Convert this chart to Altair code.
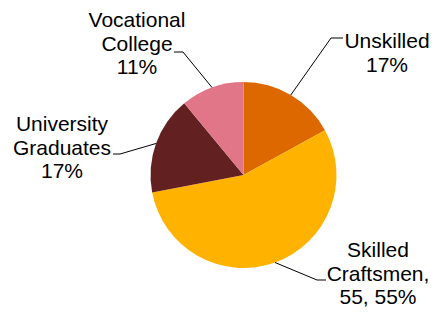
import math
import altair as alt
import pandas as pd

# ---- data ----
categories = ["Unskilled", "Skilled Craftsmen", "University Graduates", "Vocational College"]
values = [17, 55, 17, 11]
label_lines = [
    ["Unskilled"],
    ["Skilled", "Craftsmen,"],
    ["University", "Graduates"],
    ["Vocational", "College"],
]
show_value = [False, True, False, False]
colors = ["#DD6800", "#FFB300", "#622020", "#E07687"]

# ---- layout (plot coordinates, px; page = plot + 8) ----
W, H = 422, 300
CX, CY, R = 235.5, 167, 93
text_pos = [(379, 40), (370, 249), (54, 123), (129, 19)]      # center x, first baseline
leader_start = [(335, 30), (318, 272), (105, 146), (166, 44)]  # text side of leader
leader_elbow = [(323, 30), (309, 272), (112, 146), (175, 44)]

total = sum(values)
arc_df = pd.DataFrame({"category": categories, "value": values, "order": list(range(len(values)))})

# leader lines computed from slice mid-angles
rows = []
cum = 0
for i, (c, v) in enumerate(zip(categories, values)):
    mid = (cum + v / 2) / total * 2 * math.pi
    cum += v
    ex = CX + R * math.sin(mid)
    ey = CY - R * math.cos(mid)
    pts = [leader_start[i], leader_elbow[i], (ex, ey)]
    for j, (px, py) in enumerate(pts):
        rows.append({"category": c, "k": j, "x": px, "y": py})
line_df = pd.DataFrame(rows)

texts = []
for i, c in enumerate(categories):
    pct = f"{round(values[i] / total * 100)}%"
    last = f"{values[i]}, {pct}" if show_value[i] else pct
    texts.append({"category": c, "x": text_pos[i][0], "y": text_pos[i][1],
                  "label": "\n".join(label_lines[i] + [last])})
text_df = pd.DataFrame(texts)

xs = alt.Scale(domain=[0, W], nice=False, zero=False)
ys = alt.Scale(domain=[0, H], nice=False, zero=False, reverse=True)

pie = alt.Chart(arc_df).mark_arc(outerRadius=R, strokeWidth=0).encode(
    theta=alt.Theta("value:Q", stack=True),
    color=alt.Color("category:N", scale=alt.Scale(domain=categories, range=colors), legend=None),
    order=alt.Order("order:Q"),
    x=alt.value(CX),
    y=alt.value(CY),
)

lines = alt.Chart(line_df).mark_line(color="#000000", strokeWidth=1).encode(
    x=alt.X("x:Q", scale=xs, axis=None),
    y=alt.Y("y:Q", scale=ys, axis=None),
    detail="category:N",
    order="k:Q",
)

labels = alt.Chart(text_df).mark_text(
    font="Liberation Sans", fontSize=21, lineHeight=23.5, align="center",
    baseline="alphabetic", color="#000000", lineBreak="\n",
).encode(
    x=alt.X("x:Q", scale=xs, axis=None),
    y=alt.Y("y:Q", scale=ys, axis=None),
    text="label:N",
)

chart = alt.layer(pie, lines, labels).properties(
    width=W, height=H, padding=0, autosize="none",
    background="white",
).configure_view(stroke=None)

chart.save("out.html", embed_options={"renderer": "svg", "actions": False})
